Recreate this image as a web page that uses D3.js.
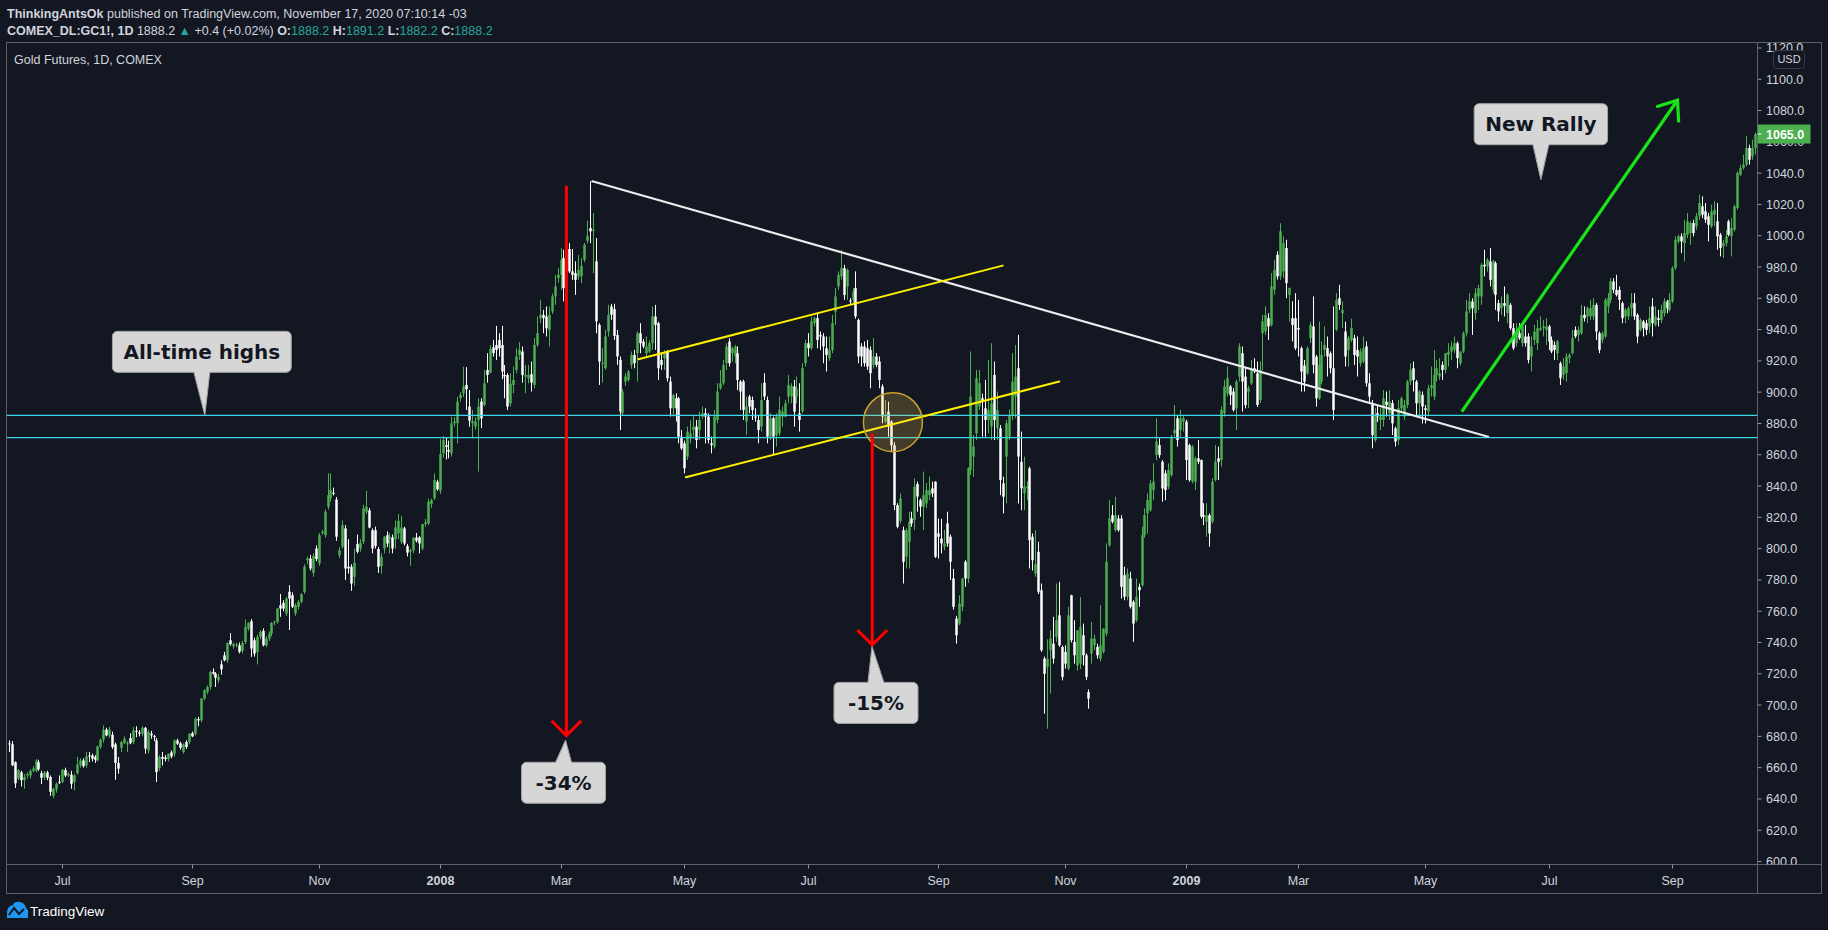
<!DOCTYPE html>
<html><head><meta charset="utf-8">
<script src="https://cdn.jsdelivr.net/npm/d3@7"></script>
<style>
html,body{margin:0;padding:0;background:#131722;overflow:hidden;}
svg{display:block}
</style></head><body>
<svg id="chart" width="1828" height="930"></svg>
<script>
// ---------------- DATA (daily bars, Jun 2007 - Oct 2009) ----------------
const opens = [
675.5,675,663.5,653,657,652,655,655,658,658,
663.5,656.5,654,657,654,642,646,651,650.8,658.5,
655,655.5,650.8,656.5,661.5,664.6,661.4,667.8,667.8,666.8,
664.6,673.2,677.9,684.3,680.6,681,674.9,663,672.7,675.7,
674.9,678.9,676.4,683.5,682.5,681.7,685.5,671,681.7,680.2,
677.4,659.7,666.8,666.5,665.7,669.7,668.9,677.4,675.5,670,
676.4,676.4,682.1,681.7,691,690.2,704.1,708.4,711.6,721.2,
720.1,715.8,726,731.8,728.6,741.4,737.6,738.2,738.2,734.6,
740.4,748.9,753.6,741.4,734,743.6,747.4,738.2,742.5,745.7,
752.5,753.2,763.8,765.3,758.5,772.4,770.2,758.5,762.8,766,
772.4,792.6,793.7,784.5,800.1,790.5,809.9,808.6,826.8,832.1,
835.7,831.4,795.8,801.2,812.9,788.4,788.4,782,802.9,800.1,
804.4,823.6,824.5,811.8,811.8,799.7,788.8,800.1,808.6,805.9,
807.1,805.9,809.7,804.4,812.9,801.6,798,799,807.1,807.1,
800.1,815.7,816.1,828.5,832.1,842.7,837,860.9,866,863,
860.9,880.2,880.2,896.3,899.3,904.6,890.8,880.1,878,882.2,
894,891.8,914.2,912.5,928.7,930.2,933.4,930.2,911,911,
892.9,904.6,914.2,923.8,926,910,908.9,911.5,904.6,930.2,
947.3,949.4,948.4,939.8,951.6,961.2,972.9,975,985.7,980.4,
991.5,977.2,976.1,974,974,984.6,996.8,1004.9,1003,983.6,
943,918.5,915.3,938.8,954.8,953.1,936.6,920.6,886.5,906.8,
907.8,917.4,923.8,924.9,937.7,932.4,924.9,926,931.3,948.4,
944.1,920.6,921.7,926,906.8,889.7,896.1,896.1,871.6,867.3,
858.8,870.5,875.8,878,875.8,884.4,886.5,884.4,867.3,865.2,
882.2,902.5,905.7,918.5,932.4,924.9,922.8,924.9,906.8,906.8,
881.2,897.2,895,884.4,882.2,878,906.1,895,871.6,883.3,
872.6,873.7,884.4,884.4,897.2,897.2,903.6,897.2,886.5,887.6,
918.5,931.3,928.1,944.1,947.3,936.6,935.6,928.1,921.7,927,
951.6,967.6,974,979.3,967.6,958.6,959,966.5,946.2,929.2,
929.2,928.1,927,917.4,922.8,919.6,903.6,881.2,887.6,881.2,
866,827.8,817.8,811.8,794.8,804.4,819.3,818.3,841.3,831,
826.8,828.9,834.2,838.5,842.8,809.7,806.5,801.2,816.1,807.6,
780.9,755.3,752.1,762.8,791.6,780.9,850.2,858.8,873.7,890.8,
896.1,889.7,882.2,878,911,876.9,876.9,841.7,858.8,871.6,
885.4,897.2,915.3,855.5,835.3,838.5,851.3,807.6,784.1,798,
773.4,729.7,724.4,735,739.3,743.6,757.4,737.2,734,723.3,
770.2,740.4,725.4,726.5,744.6,731.8,708.4,732.9,738.2,737.2,
729.7,734,745.7,802.2,821.4,811.8,819.3,819.3,783,769.2,
780.9,766,754.2,775.6,776.6,808.6,822.5,824.6,837.4,859.8,
866.2,855.5,848.1,839.6,847,873.7,883.3,875.8,881.2,881.2,
866.2,842.8,842.8,857.7,856.6,821.4,817.2,821.4,817.2,843.8,
857.7,856.6,886.5,899.3,903.6,900.4,889.7,910,924.9,910,
900.4,905.7,915.3,912.1,895,937.7,938.8,947.3,943,965.4,
987.8,974,977.2,992.1,962.2,947.3,947.3,941,928.1,917,
912.1,934.5,942,922.8,896.1,906.8,927,928.1,924.9,915.3,
940,960.1,950.5,938.8,927,933.4,934.5,927,918.5,919.6,
929.2,905.7,892.9,869.4,886.5,882.2,882.2,894,886.5,893,
876.9,869.4,889.7,884.4,891.8,906.8,915.3,906.8,892.9,898.2,
889.7,887.6,902.5,897.2,911,910,917.4,914.2,923.8,926,
927,931.3,918.5,926,937.7,952.6,958,950.5,961.2,961.2,
981.4,980.4,983.6,965.4,982.5,956.9,953.7,956.9,950.5,955.8,
940.9,931.3,937.7,931.3,935.6,935.6,922.8,933.4,931.3,939.8,
940.9,939.8,942,933.4,930.2,924.9,918.5,911,912.1,921.7,
924.9,939.8,936.6,937.7,949.4,948.4,948.4,948.4,955.8,937.7,
933.4,935.6,954.8,959,970.8,965.4,965.4,956.9,948.4,948.4,
953.7,956.9,949.4,939.8,945.2,944.1,942,954.8,943,947.3,
946.2,950.5,958,952.6,958,979.3,996.4,999.6,995.3,1000.6,
1001.7,1008.1,1006,1012.4,1018.8,1015.6,1012.4,1006,1013.4,1009.2,
1000.6,993.2,995.3,1009.2,999.6,1003.8,1017.7,1039,1043.3,1045.4,
1056.1,1050.8,1056
];
const highs = [
677.5,677,664,659,658,656,657,659,661,665.5,
665,658,658,658,655,647,650.5,655,659,660,
657,658,656,667,666,666,670,670,669,668,
674,678.5,687,685.5,686,683,676,666.8,677,680,
677,682,686,686.5,684,686.5,686,684,683.5,681,
679,668,670,668,669,671,678,678.5,676.5,675.5,
677.5,682,683,692,692.5,704.5,710,712.5,722,723.5,
721,720,728.6,734,740,746,740,740,740,741,
754.7,753,755,743,745,748,749,744,747,753,
754,762,771,767,769,776.6,772,765,767,771.5,
790,795,796,797,802,810,812,825,848.1,848,
839,833,801,818,815,806,790,800,809,806,
828,837,826,813,814,801,797,808,811,810,
809,818,822,821,814,803,800,807,810,808,
815,819,832,832,848,844,870,872,871,869,
884.4,884,897,900,916.3,916,901.4,888.6,884,896.1,
896.1,914.2,924.9,930.2,933.4,942.4,937.7,942.4,917.4,912.1,
912.1,916.4,928.1,932,929.2,917.4,917.4,919.6,934.5,948.4,
959,952.6,954.8,954.8,963,975,979.3,992.1,991,995.3,
995.3,991.5,983.6,987.8,985.7,995.3,1009.6,1034.8,1014.5,998.5,
944.1,928.1,939.8,955.8,956.5,956.5,939.8,922.8,902,912,
914.2,926,927,938.8,944.1,934,935.6,933,954.8,955.8,
945,924.9,927,927,910,899,899.3,897,875.8,869,
878,882.2,885.4,882.2,887.6,890.8,889.7,886.5,871.6,888.6,
905.7,914.2,920.6,931.3,934.5,929.2,930.2,929.2,907.8,908,
897.2,898.2,897.2,889.7,885.4,905.7,912.1,897.2,886.5,884.4,
886.5,897.2,890.8,895,911,905.7,907.8,910,905.7,918.5,
933.4,937.7,948.4,948.4,950.5,938.8,937.7,935.6,935.6,949.4,
966.5,977.2,991,981.4,979,960.1,966.5,977.2,947,931.3,
932.4,933.4,929.2,934.5,925,922.8,905,895,893.9,882,
868,829,835.3,814,813,823.6,823.6,844.9,842.8,832,
849.2,842,846,842.8,843,819.3,819,812,823.6,809,
787,757,770.2,781,792.6,852,926,872.6,914.2,914.2,
899,907.8,920.6,931.3,919.6,900.4,879,846,882.2,889,
924.9,930.2,936.6,874.8,858.8,843,852.4,809.7,811.8,804.4,
777.7,731,742,747.8,756.4,777.7,778.8,738,738.2,762.8,
770.5,754.2,748,769,752.1,733,710,753.2,745,739.3,
763.8,749,803.3,831,827.8,833.2,821.4,821.4,788.4,787.3,
785.2,767,780.9,777.7,814,825.7,835.3,843.8,854.5,883.3,
870.5,856.6,850.2,854.5,872.6,891.8,885.4,888.6,885.4,882.3,
867,866.2,858.8,869.4,857,829,829,822.5,845,866.2,
865.2,890.8,907.8,916.4,904.6,902.5,907.8,931.3,929.2,915.3,
904,920.6,921.7,919.6,919.6,949.4,954.8,950.5,976.1,984.6,
990,1008,999.6,997.4,967,958,963.3,959,929.2,920.6,
929.2,945,961.2,923.8,945.2,932.4,942,935.6,926,954.8,
963.3,968.6,958,945,936,947,936.6,935.6,928,935.6,
932.4,912.1,895,890,891.8,890,901.4,900.4,901.4,895,
878,895,897.2,895,907.8,918.5,919.6,907.8,901.4,900.4,
891.8,904.6,916.4,927,920.6,921.7,919.6,925,931.3,932.4,
935.6,932.4,926,938.8,959,963.3,960,966.5,968.6,982.5,
991,985.7,992.1,984.6,983.6,959,961.2,967.6,963.3,956.9,
944.1,944.1,944.1,944,943,937.7,935.6,943,946.2,948.4,
946.2,947.3,943,935.6,932.4,933.4,919.6,921.7,924.9,925,
939.8,942,942,955.8,954.8,954.8,959,960.1,956.9,938.8,
938.8,960.1,963.3,972.9,972.9,975,967.6,958,953.7,954.8,
963.3,963.3,950.5,947.3,946.2,946.2,954.8,960.1,954.8,952.6,
955.8,960.1,959,963.3,980.4,999.6,1000.6,1001.5,1010.2,1014.5,
1009.2,1010.2,1014.5,1026.2,1025.2,1020.9,1014.5,1019.8,1022,1020.9,
1001.7,997.4,1003.8,1010.2,1011.3,1019.8,1041.2,1045.4,1051.8,1063.6,
1058.2,1061.4,1066
];
const lows = [
670,661,647,652,648,646.5,653,653,657,657,
658,649.5,652,652,642,640.5,644,649.5,650,654,
654,646.5,645.5,655.5,660,660,660,663.6,664,663,
664,672,676,680,679,672,652.3,656.1,670,675,
670,675,675,679.5,680,680,668.9,669,678.5,677,
650.8,658,661.4,664,664,666,667,674.5,671.5,669,
672,675,679.5,680.5,686.5,689,703,707,710,719.5,
711.6,714,719.5,728,727,738,736,737,733,733,
739,747.5,730.8,731,726,742,737.5,737,741,744,
751,752,756.4,760,757,748,762,757,761,765,
771,790,786,782,792,789,809,807,825,830,
834,805,794,800,780,784,773,776,797,798,
803,822,813,797,800,784.5,784,797,801,797,
797,800,806,803,802,795,789,797,804,797,
799,814,815,826,831,837,835,858,857,857.7,
858.8,878,867.3,894,897,888.6,878,870.5,876,849.2,
877,890.8,906.1,912,922.8,920.6,922.8,908.3,896.1,888.6,
890.8,899.3,912.1,920.6,906.1,899.3,905.7,900.4,902.5,929,
944.1,937.7,935.6,929.2,950,955.8,970,965.4,958,961.2,
976.1,971.8,962.2,971.8,969.7,983,995,995.3,976.1,937.7,
904.6,906.1,914.2,935.6,946.2,933.4,917.4,875.8,885.4,904,
906.8,915,915.3,906.8,924.9,928,922.8,925,927,927,
907.8,914.2,914.2,906.8,884.4,884.4,881.2,867.3,863,848.1,
856.6,867.3,871.6,864.1,869.4,883,867.3,867.3,860.9,864,
880.1,901.4,904.6,914.2,916.4,919.6,918.5,901.4,888.6,882.2,
872.6,886.5,882.2,881.2,867.3,874.8,895,867.3,869.4,859.8,
865.2,872,878,884,892.9,892.9,878,892.9,874.8,886.5,
916.4,922.8,927,942,928.1,927,918.5,913.2,920,924.9,
943,965.4,972,959,959,955.8,955.8,947,918.5,916.4,
916.4,914.2,902.5,915,916,902.5,880.1,880.1,871.6,862,
824.6,813,816.1,777.7,787.3,787.3,814,811.8,823.6,820.4,
811.8,826,831,833,794,793.7,797,799,801.2,780,
761,739.3,751,760,775.6,778,847,846,869.4,888.6,
871.6,871.6,873.7,869.4,869.4,869.4,834.2,822.5,828.9,869.4,
882.2,883.3,828.9,824.6,824.6,831,787.3,786,782,771,
734,694.5,684.9,707.3,726.5,740.4,737.2,715.8,723.3,722.2,
740,726.5,722,723,725.4,716,697.7,726.5,735,729.7,
728,733,744,801.2,816.1,810.8,810.8,768.1,767,767,
761.7,740.4,753,762.8,775.6,807,809.7,823.6,831,856.6,
858,830,831,838,846,871.6,865.2,871.6,874.8,843.8,
842.8,841.7,837.4,854,819.3,815,807.6,801.2,816,843,
843.8,852.4,884.4,897.2,891.8,887.6,875.8,906.8,887.6,889.7,
890,904.6,912.1,890.5,893,914.2,936.6,933.4,942,962.2,
972,971.8,972.9,960.1,945.2,932.4,927,922.8,900.4,900.4,
911,931.3,912.1,890.8,895,905,922.8,910,912,882.2,
939,952.6,941,916.4,916.4,932,917.4,910,916.4,918.5,
903.6,893,864.1,868,881,875.8,877.9,884.4,882.2,872.6,
865.2,866.2,886.5,882.2,889.7,904.6,900.4,885.4,885.4,880,
880,885.4,897.2,895,906.8,907.8,907.8,912,916.4,920.6,
925,915.3,917,924.9,935.6,950.5,936.6,946.2,952.6,955.8,
974,977,967.6,963.3,952.6,945.2,949.4,948.4,944.1,939.8,
927,929.2,933.4,929,929.2,918.5,913.2,930.2,927,939,
935.6,930.2,927,924.9,920.6,920.6,904.6,907.8,906.8,918.5,
924,934.5,932.4,936.6,945.2,944.1,946.2,946.2,933.4,924.9,
931.3,934.5,950.5,956.9,963.3,961.2,952.6,944.1,944.1,946.2,
948.4,946.2,931.3,938.8,935.6,936.6,937.7,935.6,942,942,
944.1,948.4,950.5,951.6,956.9,978.2,995,988.9,983.6,998.5,
994.2,999.6,1003.8,1010.2,1011.3,1008.1,996.4,1004.9,1006,991,
986.8,985.7,993.2,999.6,986.8,1002.8,1016.6,1038,1042.2,1044.4,
1045.4,1048.6,1052
];
const closes = [
675,661.5,650,658.5,652,654,656,658,659.5,664.5,
659,653.5,657,653.5,644.5,646.5,649.7,650.5,658.7,655,
656,649.7,655,662,664.6,661,667.2,667.2,665.7,665,
673.6,677.9,684.3,680.6,684.3,673.2,663,659.3,676.4,678.5,
675.7,675.7,683.8,682.8,681.7,685.5,672.2,682.8,680.6,679.6,
657.2,666.8,665.7,665.5,668.9,667.2,677.4,675.3,672.7,674.9,
673.2,681.7,680,691.3,690.2,704.1,709.4,711.6,721.2,720.1,
717.5,718,722.9,728.6,739.7,738.9,738.9,738.7,734,739.7,
750,752.5,736.1,732.9,743.6,746.8,738.2,742.5,745.7,752.5,
753.2,761.7,761.7,761.7,768.1,768.1,762.8,763.8,766,770.9,
788.4,793.7,787.3,795.2,793.3,808.6,810.7,823.6,834.2,837.4,
835,807.6,799,815,787.3,787.3,777.7,791,798,803.7,
825.7,826.8,813.5,800.1,801.6,788.4,794.8,807.6,803.3,807.6,
800.1,813.5,817.8,813.5,803.3,797.4,799,807.1,805,803.3,
815.7,816.8,830,831,843.8,837.9,860.5,869.4,865,862,
880,881.2,894,898.2,903.6,901.9,881.8,881.6,881.2,890.8,
883.3,905.7,911,927.7,924.9,927,928.1,913.2,910,890.8,
905.3,907.8,922.8,927,911,911,911,906.1,930.2,937.7,
949.4,947.3,940.9,949.4,961.2,967.6,975,984.6,966.5,988.9,
977.2,975,971.8,978.2,980.8,994.2,1000,1002.8,1003.8,945.2,
919.6,918.9,935.6,949.4,949.4,936,922.8,887.6,900.4,910,
913.2,923.8,918.5,937.7,931.3,929.2,929.2,931.3,948.4,943,
915.3,917.4,924.9,908.9,889.7,898.2,889.7,871.6,864.1,851.3,
874.8,873.7,878,869.4,882.2,886.5,884.4,869.4,866.2,884.4,
900.4,905.7,917.4,929.2,918.5,928.1,929.2,907.8,900.4,888.6,
890.8,890.8,888.6,883.9,875.8,895,897.2,871.6,883.3,871.6,
884.4,888.6,887.6,892.9,904.6,904,887.6,902.5,882.2,915.3,
931.3,928.1,945.2,947.3,933.4,935.6,929.2,923.8,927,944.1,
961.2,975,979.3,962.2,978.2,958,964.4,948.4,922.8,922.8,
918.5,916.4,912.1,922.8,917.4,907.8,884.4,884.4,878,866,
827.8,814,832.1,791.6,811.8,817.2,816.1,839.6,833.2,826.8,
834.2,837.4,837.4,835.3,794.8,807.6,803.3,803.3,803.3,791.6,
762.8,744.6,764.9,780.9,780.9,851.3,897.2,865.2,908.9,905.7,
894,882.2,888.6,892.9,882.2,888.6,843.8,833.2,880.1,885.4,
906.8,910,858.8,838.5,839.6,839.6,805.4,792.6,790.1,772.4,
735,720,729.7,742.5,729.7,754.2,738.2,718,726.5,757.4,
741.4,731.8,747.8,750,731.8,718,704.1,742.5,742.5,731.8,
738.2,748.9,791.6,819.3,817.2,821.4,811.8,775.6,769.2,784.1,
762.8,752.1,769.2,773.4,808.6,821.4,831,841.7,842.8,868.4,
859.8,838.5,837.4,850.2,871.6,875.8,869.4,883.3,883.3,856.6,
843.8,865.2,857.7,855.5,820.4,820.4,821.4,809.7,842.8,855.5,
855.5,888.6,903.6,908.9,898.2,888.6,906.8,929.2,906.8,891.8,
902.5,914.2,913.2,891.8,914.2,945.2,949.4,942,967.6,978.2,
974,1002.8,995.3,969.7,966.5,943,928.1,940,913.2,906.8,
928.1,943,917.4,896.1,917.4,923.8,930.2,922.8,915.3,888.6,
959,955.8,952.6,922.8,934.5,941,923.8,922.8,926,928.1,
905.7,897.2,872.6,884.4,884.4,884.4,896.1,891.8,893.9,880.1,
868.4,889.7,896.1,891.8,906.8,914.2,907.8,892.9,900.4,890.8,
888.6,902.5,904.6,911,915.3,912,914.2,924.9,925.9,929.2,
931.3,921.7,926,937.7,951.6,958,953.7,963.3,966.5,981.4,
980.4,984.6,971.8,983.6,962.2,951.6,956.9,955.2,962.2,940.9,
928.1,937.7,934.5,942,931.3,920.6,929.2,938.8,940.9,940.9,
942,942,932.4,926,927,932.4,908.9,916.4,922.8,923.8,
934.5,935.6,939.8,949.4,947.3,953.7,953.7,955.8,938.8,927,
937.7,959,960.1,970.8,965.4,962.2,959,947.3,952.6,953.7,
956.9,948.4,935.6,946.2,940.9,939.8,947.3,944.1,948.4,946.2,
952.6,958,953.7,959,979.3,997.4,999.6,996.4,1001.7,1009.2,
1008.1,1001.7,1012.4,1020.9,1013.4,1010.2,1007,1015.6,1016.6,999.6,
992.1,995.3,999.6,1000.6,1004.9,1018.8,1040.1,1043.3,1045.4,1056.1,
1048.6,1056.1,1065
];

// time-axis labels and the bar index where each month starts
const tickLabels = ["Jul","Sep","Nov","2008","Mar","May","Jul","Sep","Nov","2009","Mar","May","Jul","Sep"];
const tickBars   = [18, 62, 105, 146, 187, 229, 271, 315, 358, 399, 437, 480, 522, 564];
// price-axis labels
const priceTicks = [600,620,640,660,680,700,720,740,760,780,800,820,840,860,880,900,920,940,960,980,1000,1020,1040,1060,1080,1100,1120];
const lastPrice = 1065.0;

// drawings, in (bar index, price)
const resistanceLine = [[197.8, 1034.8], [501.5, 871.5]];
const channelUpper   = [[213.4, 921.1], [336.9, 980.9]];
const channelLower   = [[229.5, 845.6], [356.1, 906.8]];
const levelPrices    = [885.2, 870.9];
const dropBars       = [189, 292.7];
const dropFrom       = [1032, 873.7];
const dropTo         = [680.5, 738.4];
const rallyArrow     = [[492.6, 887.6], [565.7, 1086.6]];
const circleAt       = [299.7, 880.8];
const calloutTexts   = ["All-time highs", "New Rally", "-34%", "-15%"];
const calloutBars    = [66.4, 519.4, 188.7, 292.6];
const calloutPrices  = [885.2, 1035.8, 677.5, 737.5];

// ---------------- DRAWING ----------------
const W = 1828, H = 930;
const P = {l: 6.5, t: 42.5, r: 1757.5, b: 864.5, R: 1821.5, B: 893.5};
const svg = d3.select('#chart');
const FONT = "'Liberation Sans', Arial, sans-serif";
svg.append('rect').attr('width', W).attr('height', H).attr('fill', '#131722');

const defs = svg.append('defs');
defs.append('clipPath').attr('id', 'plotClip').append('rect')
  .attr('x', P.l).attr('y', P.t).attr('width', P.r - P.l).attr('height', P.b - P.t);
defs.append('clipPath').attr('id', 'axisClip').append('rect')
  .attr('x', P.r).attr('y', P.t).attr('width', P.R - P.r).attr('height', P.b - P.t);

const N = closes.length;
const x = d3.scaleLinear().domain([0, N - 1]).range([9, 1755]);
const y = d3.scaleLinear().domain([598.1, 1123.5]).range([P.b, P.t]);

// header
const hdr = svg.append('g').attr('font-family', FONT).attr('font-size', 12.5).attr('fill', '#d1d4dc');
const l1 = hdr.append('text').attr('x', 7).attr('y', 17.5);
l1.append('tspan').attr('font-weight', 'bold').text('ThinkingAntsOk');
l1.append('tspan').text(' published on TradingView.com, November 17, 2020 07:10:14 -03');
const l2 = hdr.append('text').attr('x', 7).attr('y', 34.5);
const teal = '#26a69a';
[['COMEX_DL:GC1!, 1D', 'b'], [' 1888.2 ', ''], ['\u25B2', 't'], [' +0.4 (+0.02%) ', ''],
 ['O:', 'b'], ['1888.2', 't'], [' H:', 'b'], ['1891.2', 't'], [' L:', 'b'], ['1882.2', 't'],
 [' C:', 'b'], ['1888.2', 't']].forEach(([s, k]) => {
  const t = l2.append('tspan').text(s);
  if (k === 'b') t.attr('font-weight', 'bold');
  if (k === 't') t.attr('fill', teal);
});

// pane frame
svg.append('rect').attr('x', 6.5).attr('y', P.t).attr('width', P.R - 6.5).attr('height', P.B - P.t)
  .attr('fill', 'none').attr('stroke', '#5d606b');
svg.append('line').attr('x1', P.r).attr('x2', P.r).attr('y1', P.t).attr('y2', P.B).attr('stroke', '#5d606b');
svg.append('line').attr('x1', 6.5).attr('x2', P.R).attr('y1', P.b).attr('y2', P.b).attr('stroke', '#5d606b');

svg.append('text').attr('x', 14).attr('y', 64).attr('font-family', FONT).attr('font-size', 12.5)
  .attr('fill', '#d1d4dc').text('Gold Futures, 1D, COMEX');

// candles
const gC = svg.append('g').attr('clip-path', 'url(#plotClip)');
d3.range(N).forEach(i => {
  const cx = Math.round(x(i));
  const up = closes[i] >= opens[i];
  const col = up ? '#4caf50' : '#ffffff';
  const yh = y(highs[i]), yl = y(lows[i]);
  gC.append('rect').attr('x', cx).attr('width', 1).attr('y', yh).attr('height', Math.max(1, yl - yh)).attr('fill', col);
  const yt = y(Math.max(opens[i], closes[i])), yb = y(Math.min(opens[i], closes[i]));
  gC.append('rect').attr('x', cx - 0.75).attr('width', 2.5).attr('y', yt).attr('height', Math.max(1, yb - yt)).attr('fill', col);
});

// drawings
const gD = svg.append('g').attr('clip-path', 'url(#plotClip)');
levelPrices.forEach(p => gD.append('line').attr('x1', P.l).attr('x2', P.r).attr('y1', y(p)).attr('y2', y(p))
  .attr('stroke', '#3dd6e8').attr('stroke-width', 1.3));
const seg = (pts, col, w) => gD.append('line')
  .attr('x1', x(pts[0][0])).attr('y1', y(pts[0][1])).attr('x2', x(pts[1][0])).attr('y2', y(pts[1][1]))
  .attr('stroke', col).attr('stroke-width', w).attr('stroke-linecap', 'round');
seg(resistanceLine, '#ececec', 2.2);
seg(channelUpper, '#fff000', 2);
seg(channelLower, '#fff000', 2);
gD.append('circle').attr('cx', x(circleAt[0])).attr('cy', y(circleAt[1])).attr('r', 29.5)
  .attr('fill', 'rgba(255,200,80,0.21)').attr('stroke', '#c9a030').attr('stroke-width', 1.5);

function arrowHead(x0, y0, x1, y1, len, ang) {
  const a = Math.atan2(y0 - y1, x0 - x1);
  const p1 = [x1 + len * Math.cos(a + ang), y1 + len * Math.sin(a + ang)];
  const p2 = [x1 + len * Math.cos(a - ang), y1 + len * Math.sin(a - ang)];
  return `M${p1[0]},${p1[1]}L${x1},${y1}L${p2[0]},${p2[1]}`;
}
dropBars.forEach((b, k) => {
  const xx = x(b), y0 = y(dropFrom[k]), y1 = y(dropTo[k]);
  gD.append('line').attr('x1', xx).attr('x2', xx).attr('y1', y0).attr('y2', y1).attr('stroke', '#ff0000').attr('stroke-width', 3);
  gD.append('path').attr('d', arrowHead(xx, y0, xx, y1, 21, Math.PI / 4)).attr('fill', 'none')
    .attr('stroke', '#ff0000').attr('stroke-width', 3);
});
{
  const x0 = x(rallyArrow[0][0]), y0 = y(rallyArrow[0][1]), x1 = x(rallyArrow[1][0]), y1 = y(rallyArrow[1][1]);
  gD.append('line').attr('x1', x0).attr('y1', y0).attr('x2', x1).attr('y2', y1).attr('stroke', '#18e418').attr('stroke-width', 3.2);
  gD.append('path').attr('d', arrowHead(x0, y0, x1, y1, 21, 38 * Math.PI / 180)).attr('fill', 'none')
    .attr('stroke', '#18e418').attr('stroke-width', 3.2).attr('stroke-linecap', 'round');
}

// callouts
const calloutDir = ['down', 'down', 'up', 'up'];
const calloutGap = [43, 35, 22, 36];
const calloutDx = [-3, 0, -2, 4];
calloutTexts.forEach((txt, k) => {
  const tx = x(calloutBars[k]), ty = y(calloutPrices[k]);
  const g = svg.append('g');
  const t = g.append('text').text(txt).attr('font-family', "'DejaVu Sans', sans-serif").attr('font-weight', 'bold')
    .attr('font-size', 20).attr('fill', '#131722').attr('text-anchor', 'middle');
  const tw = t.node().getComputedTextLength();
  const bw = Math.max(tw + 22, 84), bh = 41;
  const bcx = tx + calloutDx[k];
  const top = calloutDir[k] === 'down' ? ty - calloutGap[k] - bh : ty + calloutGap[k];
  const baseY = calloutDir[k] === 'down' ? top + bh : top;
  g.insert('rect', 'text').attr('x', bcx - bw / 2).attr('y', top).attr('width', bw).attr('height', bh)
    .attr('rx', 5).attr('fill', '#d6d6d6').attr('stroke', '#a5a5a5').attr('stroke-width', 1);
  const inner = calloutDir[k] === 'down' ? -1 : 1;
  g.insert('path', 'text').attr('d', `M${bcx - 8},${baseY + inner}L${tx},${ty}L${bcx + 8},${baseY + inner}Z`)
    .attr('fill', '#d6d6d6');
  g.insert('path', 'text').attr('d', `M${bcx - 8},${baseY}L${tx},${ty}L${bcx + 8},${baseY}`)
    .attr('fill', 'none').attr('stroke', '#a5a5a5').attr('stroke-width', 1);
  t.attr('x', bcx).attr('y', top + bh / 2 + 7);
});

// price axis
const gA = svg.append('g').attr('clip-path', 'url(#axisClip)').attr('font-family', FONT).attr('font-size', 12.5);
priceTicks.forEach(v => {
  gA.append('line').attr('x1', P.r).attr('x2', P.r + 4).attr('y1', y(v)).attr('y2', y(v)).attr('stroke', '#9598a1');
  gA.append('text').attr('x', 1766).attr('y', y(v)).attr('dy', '0.36em').attr('fill', '#d1d4dc').text(v.toFixed(1));
});
gA.append('rect').attr('x', 1773.5).attr('y', 50.5).attr('width', 31).attr('height', 18).attr('rx', 3)
  .attr('fill', '#131722').attr('stroke', '#363a45');
gA.append('text').attr('x', 1789).attr('y', 59.5).attr('dy', '0.36em').attr('text-anchor', 'middle')
  .attr('font-size', 11).attr('fill', '#d1d4dc').text('USD');
gA.append('rect').attr('x', P.r).attr('y', y(lastPrice) - 9.5).attr('width', 53).attr('height', 19).attr('fill', '#4caf50');
gA.append('line').attr('x1', P.r).attr('x2', P.r + 4).attr('y1', y(lastPrice)).attr('y2', y(lastPrice)).attr('stroke', '#ffffff');
gA.append('text').attr('x', 1766).attr('y', y(lastPrice)).attr('dy', '0.36em').attr('fill', '#ffffff')
  .attr('font-weight', 'bold').text(lastPrice.toFixed(1));

// time axis
const gT = svg.append('g').attr('font-family', FONT).attr('font-size', 12.5).attr('fill', '#d1d4dc');
tickLabels.forEach((lab, k) => {
  const xx = Math.round(x(tickBars[k])) + 0.5;
  gT.append('line').attr('x1', xx).attr('x2', xx).attr('y1', P.b).attr('y2', P.b + 4).attr('stroke', '#9598a1');
  gT.append('text').attr('x', xx).attr('y', 880).attr('dy', '0.36em').attr('text-anchor', 'middle')
    .attr('font-weight', /^\d/.test(lab) ? 'bold' : 'normal').text(lab);
});

// TradingView logo
const gL = svg.append('g');
gL.append('path').attr('d', 'M7,918 L7,913 Q7,906 13,905 Q15,901 20,902 Q25,903 26,908 Q29,910 28,914 L28,918 Z').attr('fill', '#2196f3');
gL.append('path').attr('d', 'M9,915 L14,908 L19,914 L24,909').attr('fill', 'none').attr('stroke', '#131722').attr('stroke-width', 2);
gL.append('text').attr('x', 30).attr('y', 916).attr('font-family', FONT).attr('font-size', 13.5).attr('fill', '#ffffff').text('TradingView');
</script>
</body></html>
